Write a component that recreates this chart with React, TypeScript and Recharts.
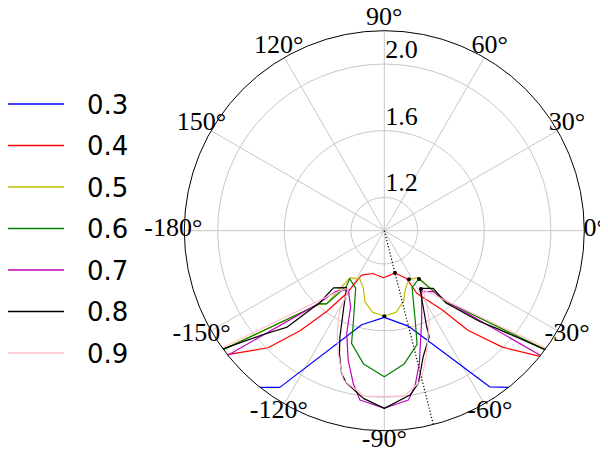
import React from 'react';
import { RadarChart, Radar, PolarGrid, PolarAngleAxis, PolarRadiusAxis } from 'recharts';

// ---- data (angle in degrees, radius value) ----
const a03 = [-128.4, -123.7, -103.5, -90, -75.9, -56.0, -51.6];
const v03 = [2.2, 2.13, 1.58, 1.52, 1.59, 2.13, 2.2];

const a04 = [-141.7, -134.8, -130.1, -125.5, -121.0, -117.1, -105.0, -91.0, -76.0, -65.0, -62.5, -53.8, -50.0, -44.6, -38.9];
const v04 = [2.2, 1.99, 1.785, 1.596, 1.44, 1.30, 1.266, 1.282, 1.262, 1.316, 1.425, 1.59, 1.78, 1.995, 2.2];

const a05 = [-143.6, -131.5, -128.3, -126.1, -116.7, -110.0, -105.2, -98.1, -90.0, -81.9, -74.8, -70.0, -63.1, -54.1, -51.8, -48.6, -36.4];
const v05 = [2.2, 1.59, 1.56, 1.349, 1.325, 1.368, 1.442, 1.495, 1.512, 1.495, 1.44, 1.37, 1.327, 1.348, 1.43, 1.58, 2.2];

const a06 = [-143.5, -131.5, -128.3, -124.3, -125.8, -116.5, -108.8, -106.2, -98.8, -90.0, -81.5, -73.9, -71.0, -64.0, -54.3, -51.8, -49.4, -47.1, -36.5];
const v06 = [2.2, 1.585, 1.56, 1.405, 1.355, 1.385, 1.575, 1.704, 1.81, 1.876, 1.808, 1.71, 1.57, 1.38, 1.355, 1.427, 1.574, 1.608, 2.2];

const a07 = [-141.5, -132.1, -128.8, -121.5, -113.9, -110.1, -105.6, -101.5, -98.2, -90.0, -81.9, -78.9, -75.2, -67.3, -58.5, -51.2, -47.9, -38.6];
const v07 = [2.2, 1.588, 1.469, 1.413, 1.499, 1.656, 1.806, 1.935, 2.026, 2.065, 2.026, 1.954, 1.823, 1.581, 1.429, 1.469, 1.588, 2.2];

const a08 = [-143.8, -139.6, -135.3, -131.9, -131.6, -123.5, -117.5, -112.7, -110.1, -106.7, -104.1, -97.1, -90.0, -81.1, -77.4, -72.8, -67.0, -66.2, -58.3, -49.7, -49.4, -43.6, -41.0, -36.5];
const v08 = [2.2, 1.966, 1.825, 1.579, 1.459, 1.41, 1.53, 1.69, 1.784, 1.893, 1.94, 2.014, 2.066, 1.998, 1.938, 1.79, 1.69, 1.63, 1.407, 1.454, 1.574, 1.79, 1.893, 2.2];

const a09 = [-144.1, -131.9, -124.0, -121.3, -119.2, -117.3, -114.6, -110.6, -105.4, -96.9, -90.0, -83.0, -76.0, -71.0, -63.3, -60.5, -56.7, -35.9];
const v09 = [2.2, 1.545, 1.42, 1.415, 1.545, 1.603, 1.677, 1.786, 1.929, 1.999, 1.996, 1.999, 1.923, 1.779, 1.6, 1.52, 1.426, 2.2];

const guideAngles = [-75.8, -75.8];
const guideValues = [1.0, 2.2];

const dotAngles = [-75.8, -63.1, -54.3, -57.8, -90];
const dotValues = [1.26, 1.327, 1.357, 1.413, 1.514];

const seriesNames = ['0.3', '0.4', '0.5', '0.6', '0.7', '0.8', '0.9'];
const seriesColors = ['#0000ff', '#ff0000', '#bfbf00', '#008000', '#bf00bf', '#000000', '#ffc0cb'];
const seriesAngles = [a03, a04, a05, a06, a07, a08, a09];
const seriesValues = [v03, v04, v05, v06, v07, v08, v09];

const angleTicks = [-180, -150, -120, -90, -60, -30, 0, 30, 60, 90, 120, 150];
const radiusTicks = [1.2, 1.6, 2.0];
const radiusDomain = [1.0, 2.2];

// ---- build table ----
type Row = { angle: number; [k: string]: number };
const data: Row[] = [];
seriesNames.forEach((_, si) => {
  seriesAngles[si].forEach((a, i) => {
    data.push({ angle: a, ['s' + si]: seriesValues[si][i] });
  });
});
guideAngles.forEach((a, i) => data.push({ angle: a, guide: guideValues[i] }));
dotAngles.forEach((a, i) => data.push({ angle: a, dots: dotValues[i] }));

const validPts = (points: any[]) =>
  (points || []).filter(
    (p) => p && p.value != null && Number.isFinite(p.x) && Number.isFinite(p.y)
  );

const makeLine = (color: string, dash?: string) => (props: any) => {
  const pts = validPts(props.points);
  if (pts.length < 2) return <g />;
  const d = pts.map((p: any, i: number) => `${i ? 'L' : 'M'}${p.x},${p.y}`).join(' ');
  return (
    <path d={d} fill="none" stroke={color} strokeWidth={1.2} strokeDasharray={dash} strokeLinejoin="round" />
  );
};

const dotShape = (props: any) => {
  const pts = validPts(props.points);
  return (
    <g>
      {pts.map((p: any, i: number) => (
        <circle key={i} cx={p.x} cy={p.y} r={2} fill="#000" />
      ))}
    </g>
  );
};

const SERIF = '"Liberation Serif", "Times New Roman", Times, serif';
const SANS = '"DejaVu Sans", sans-serif';

const AngleTick = (props: any) => {
  const { x, y, payload } = props;
  return (
    <text
      x={x}
      y={y + 5}
      textAnchor="middle"
      fill="#000"
      style={{ fontFamily: SERIF, fontSize: 26 }}
    >
      {`${payload.value}°`}
    </text>
  );
};

const RadiusTick = (props: any) => {
  const { x, y, payload } = props;
  return (
    <text
      x={x + 1}
      y={y - 6}
      textAnchor="start"
      fill="#000"
      style={{ fontFamily: SERIF, fontSize: 26 }}
    >
      {Number(payload.value).toFixed(1)}
    </text>
  );
};

export default function App() {
  return (
    <div style={{ position: 'relative', width: 600, height: 444 }}>
      <RadarChart
        width={600}
        height={444}
        data={data}
        cx={376.3}
        cy={222.7}
        innerRadius={0}
        outerRadius={200}
        startAngle={-180}
        endAngle={180}
        margin={{ top: 0, right: 0, bottom: 0, left: 0 }}
      >
        <PolarGrid gridType="circle" stroke="#c8c8c8" strokeWidth={1} />
        <PolarAngleAxis
          dataKey="angle"
          type="number"
          domain={[-180, 180]}
          ticks={angleTicks}
          tickSize={11}
          tickLine={false}
          axisLineType="circle"
          axisLine={{ stroke: '#000', strokeWidth: 1 }}
          tick={AngleTick}
        />
        <PolarRadiusAxis
          angle={90}
          type="number"
          domain={radiusDomain}
          ticks={radiusTicks}
          axisLine={false}
          tickLine={false}
          tick={RadiusTick}
        />
        {seriesNames.map((n, si) => (
          <Radar
            key={n}
            name={n}
            dataKey={'s' + si}
            stroke={seriesColors[si]}
            fill="none"
            isAnimationActive={false}
            shape={makeLine(seriesColors[si])}
          />
        ))}
        <Radar dataKey="guide" stroke="#000" fill="none" isAnimationActive={false} shape={makeLine('#000', '1.2 2')} />
        <Radar dataKey="dots" stroke="#000" fill="none" isAnimationActive={false} shape={dotShape} />
      </RadarChart>
      <svg
        width={140}
        height={300}
        style={{ position: 'absolute', left: -8, top: 72 }}
      >
        {seriesNames.map((n, i) => {
          const y = 24 + i * 41.5;
          return (
            <g key={n}>
              <line x1={7} x2={64} y1={y} y2={y} stroke={seriesColors[i]} strokeWidth={1.5} />
              <text x={87} y={y + 9.5} fill="#000" style={{ fontFamily: SANS, fontSize: 26 }}>
                {n}
              </text>
            </g>
          );
        })}
      </svg>
    </div>
  );
}
